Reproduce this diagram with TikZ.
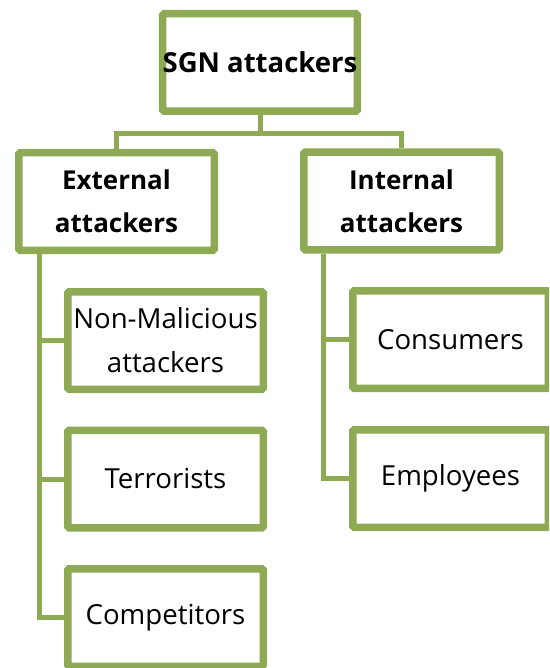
\documentclass[tikz,border=0pt]{standalone}
\usepackage{fontspec}
\setmainfont{Open Sans}
\usetikzlibrary{shadows}
\definecolor{olivegr}{RGB}{142,170,84}
\begin{document}
\begin{tikzpicture}[x=1pt,y=-1pt,
  box/.style={draw=olivegr, line width=7.5pt, fill=white, rounded corners=1.5pt,
    minimum width=195.5pt, minimum height=97.5pt, inner sep=0pt, align=center,
    drop shadow={shadow xshift=1.2pt, shadow yshift=-2.5pt, opacity=0.25, fill=gray}},
  headtxt/.style={font=\fontsize{26}{43}\selectfont\bfseries},
  toptxt/.style={font=\fontsize{27.5}{43}\selectfont\bfseries},
  leaftxt/.style={font=\fontsize{27.6}{44}\selectfont},
  conn/.style={draw=olivegr, line width=5pt}]
\useasboundingbox (0,0) rectangle (549,668);
\clip (0,0) rectangle (549,668);
\coordinate (bus) at (260,133.5);
\coordinate (extstem) at (39,250);
\coordinate (intstem) at (323,250);
\node[box, toptxt, minimum width=194.5pt] (top) at (260,62.5) {SGN attackers};
\node[box, headtxt] (ext) at (116.5,201.5) {External\\attackers};
\node[box, headtxt] (int) at (401.5,201) {Internal\\attackers};
\node[box, leaftxt] (nm) at (165.5,340.5) {Non-Malicious\\attackers};
\node[box, leaftxt] (terr) at (165.5,479) {Terrorists};
\node[box, leaftxt] (comp) at (165.5,617.5) {Competitors};
\node[box, leaftxt] (cons) at (450.5,339.5) {Consumers};
\node[box, leaftxt] (emp) at (450.5,478.5) {Employees};
\draw[conn] (top.south) -- (bus);
\draw[conn] (ext.north) |- (bus) -| (int.north);
\draw[conn] (ext.south -| extstem) |- (comp.west);
\draw[conn] (extstem |- nm.west) -- (nm.west);
\draw[conn] (extstem |- terr.west) -- (terr.west);
\draw[conn] (int.south -| intstem) |- (emp.west);
\draw[conn] (intstem |- cons.west) -- (cons.west);
\end{tikzpicture}
\end{document}
